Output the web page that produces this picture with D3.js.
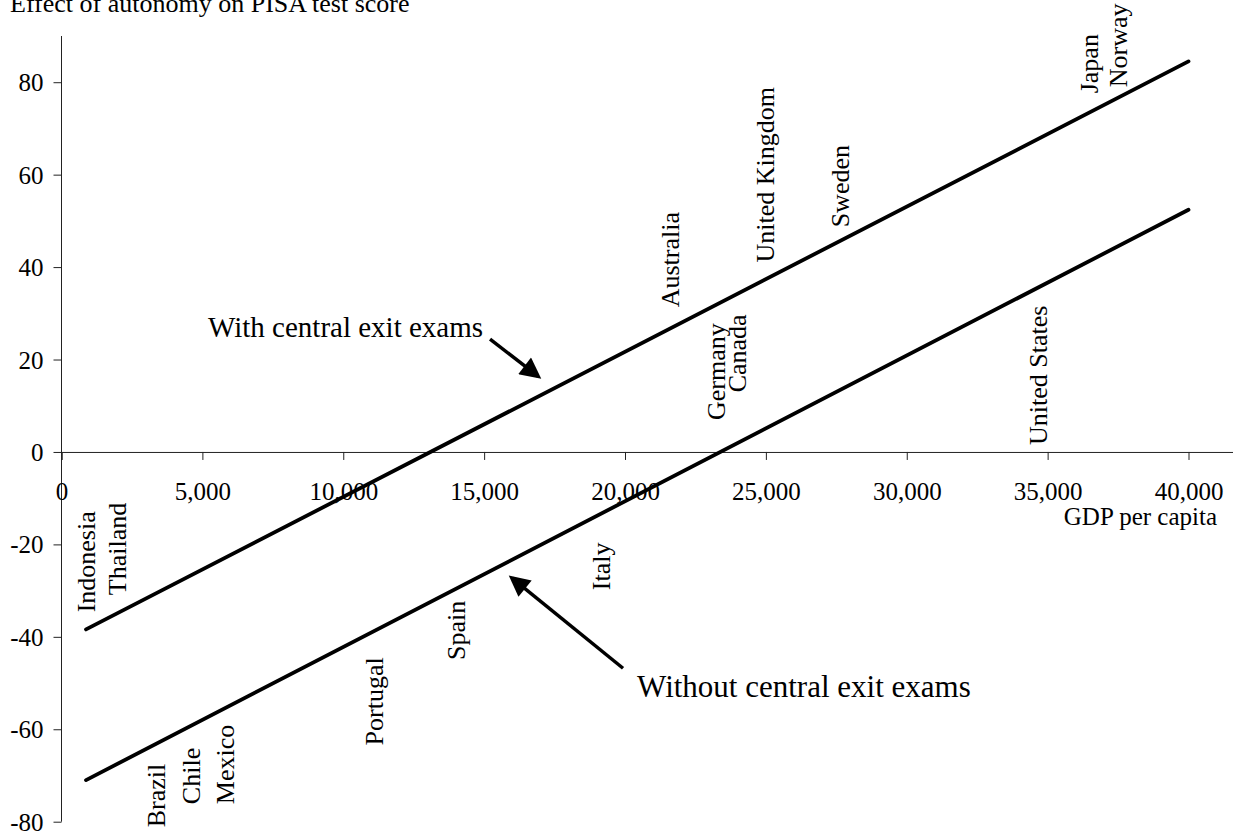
<!DOCTYPE html>
<html>
<head>
<meta charset="utf-8">
<script src="https://cdn.jsdelivr.net/npm/d3@7"></script>
<style>
  body { margin: 0; background: #fff; }
  svg { display: block; }
  svg text { font-family: "Liberation Serif", "Times New Roman", serif; fill: #000; }
</style>
</head>
<body>
<svg id="chart" width="1233" height="836"></svg>
<script>
// chart data
const title = "Effect of autonomy on PISA test score";
const xTicks = [0, 5000, 10000, 15000, 20000, 25000, 30000, 35000, 40000];
const yTicks = [-80, -60, -40, -20, 0, 20, 40, 60, 80];

// fitted effect lines (GDP per capita, effect)
const withExams = [[870, -38.4], [40000, 84.5]];
const withoutExams = [[870, -71.0], [40000, 52.4]];

// country labels: name, GDP per capita, value where the label starts
const countries = ["Indonesia", "Thailand", "Brazil", "Chile", "Mexico", "Portugal", "Spain", "Italy",
  "Australia", "Germany", "Canada", "United Kingdom", "Sweden", "Japan", "Norway", "United States"];
const countryGdp = [870, 1970, 3350, 4600, 5800, 11100, 14000, 19150,
  21600, 23230, 23970, 24970, 27630, 36470, 37500, 34660];
const labelStart = [-34.7, -31.0, -81.2, -76.2, -76.2, -63.5, -45.0, -29.9,
  31.3, 6.9, 12.9, 41.0, 48.6, 77.6, 78.9, 1.5];

// annotations: text, size, text position, arrow tail, arrow tip (data units)
const annotations = [
  { text: "With central exit exams", size: 29, at: [5200, 24.8], tail: [15210, 24.4], tip: [16910, 16.4] },
  { text: "Without central exit exams", size: 31, at: [20430, -53.0], tail: [19930, -46.8], tip: [15990, -27.3] }
];

const svg = d3.select("#chart");

const x = d3.scaleLinear().domain([0, 42000]).range([61.5, 61.5 + 42 * 28.175]);
const y = d3.scaleLinear().domain([-80, 90]).range([821.7, 36]);

svg.append("defs").append("marker")
  .attr("id", "head")
  .attr("viewBox", "0 0 10 10")
  .attr("refX", 8).attr("refY", 5)
  .attr("markerWidth", 6.5).attr("markerHeight", 6)
  .attr("markerUnits", "strokeWidth")
  .attr("orient", "auto")
  .append("path").attr("d", "M0,0 L10,5 L0,10 Z").attr("fill", "#000");

// title (cut at the top like the source)
svg.append("text")
  .attr("x", 10).attr("y", 12)
  .attr("font-size", 26)
  .text(title);

// y axis
const yAxis = svg.append("g")
  .attr("transform", `translate(${x(0)},0)`)
  .call(d3.axisLeft(y).tickValues(yTicks).tickSize(8).tickPadding(10).tickFormat(d => String(d)));
yAxis.attr("font-family", null);
yAxis.select(".domain").attr("stroke", "#222").attr("d", `M0,${y(-80)}V${y(90)}`);
yAxis.selectAll(".tick line").attr("stroke", "#222");
yAxis.selectAll("text").attr("font-size", 25).attr("dy", "0.34em");

// x axis on the zero line
const xAxis = svg.append("g")
  .attr("transform", `translate(0,${y(0)})`)
  .call(d3.axisBottom(x).tickValues(xTicks).tickSize(8).tickPadding(22).tickFormat(d3.format(",")));
xAxis.attr("font-family", null);
xAxis.select(".domain").attr("stroke", "#222");
xAxis.selectAll(".tick line").attr("stroke", "#222");
xAxis.selectAll("text").attr("font-size", 25);

svg.append("text")
  .attr("x", 1217).attr("y", 525)
  .attr("text-anchor", "end")
  .attr("font-size", 25)
  .text("GDP per capita");

// effect lines
const line = d3.line().x(d => x(d[0])).y(d => y(d[1]));
svg.selectAll("path.effect")
  .data([withExams, withoutExams])
  .join("path")
  .attr("class", "effect")
  .attr("d", line)
  .attr("fill", "none")
  .attr("stroke", "#000")
  .attr("stroke-width", 3.8)
  .attr("stroke-linecap", "round");

// country labels, written upward
svg.selectAll("text.country")
  .data(countries)
  .join("text")
  .attr("class", "country")
  .attr("transform", (d, i) => `translate(${x(countryGdp[i])},${y(labelStart[i])}) rotate(-90)`)
  .attr("dy", "0.35em")
  .attr("font-size", 26)
  .text(d => d);

// annotations with arrows
annotations.forEach(a => {
  svg.append("text")
    .attr("x", x(a.at[0])).attr("y", y(a.at[1]))
    .attr("font-size", a.size)
    .text(a.text);
  svg.append("line")
    .attr("x1", x(a.tail[0])).attr("y1", y(a.tail[1]))
    .attr("x2", x(a.tip[0])).attr("y2", y(a.tip[1]))
    .attr("stroke", "#000")
    .attr("stroke-width", 3.5)
    .attr("marker-end", "url(#head)");
});
</script>
</body>
</html>
